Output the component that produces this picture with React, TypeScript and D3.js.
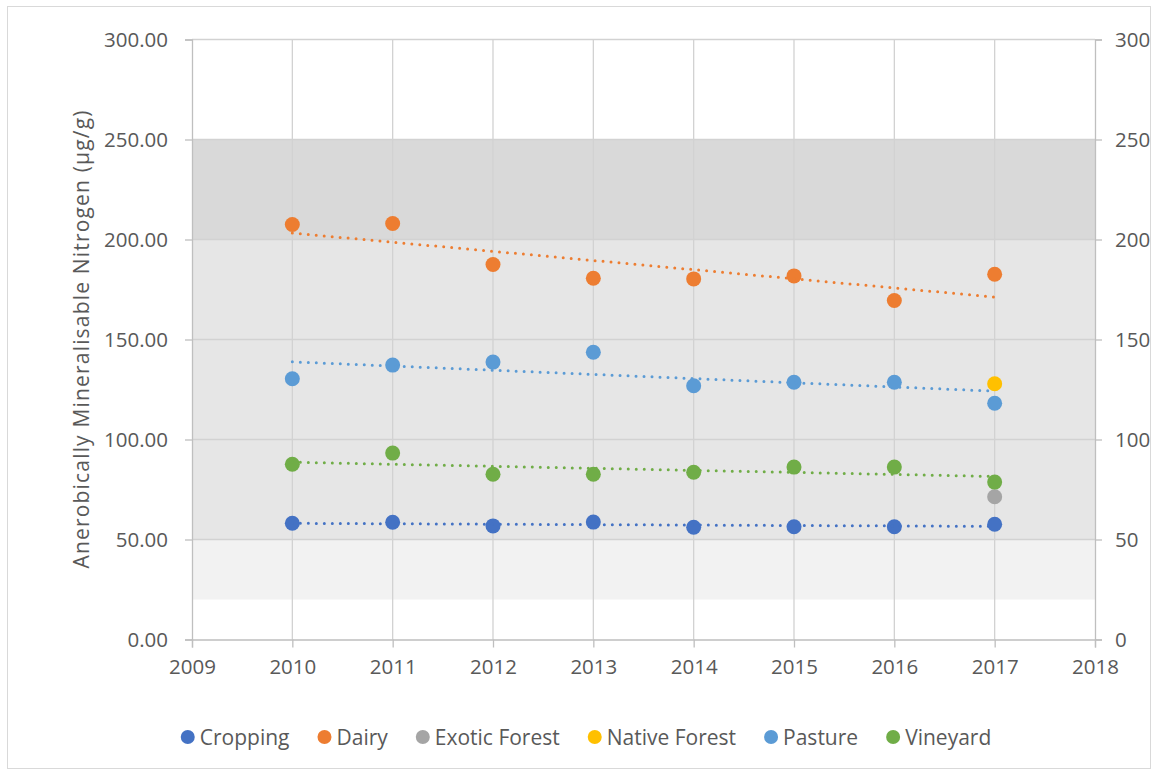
import React, { useEffect, useRef } from 'react';
import * as d3 from 'd3';

const W = 1157, H = 774;
const PLOT = { left: 192, right: 1095, top: 39.5, bottom: 639.5 };
const FONT = '"Open Sans", "DejaVu Sans", sans-serif';
const TEXT = '#595959';

// data
const years = [2010, 2011, 2012, 2013, 2014, 2015, 2016, 2017];
const cropping = [58.1, 58.6, 56.8, 58.7, 56.1, 56.4, 56.4, 57.6];
const dairy = [207.5, 208, 187.5, 180.6, 180.3, 181.8, 169.5, 182.6];
const exoticForest = [null, null, null, null, null, null, null, 71.4];
const nativeForest = [null, null, null, null, null, null, null, 127.9];
const pasture = [130.4, 137.2, 138.7, 143.6, 126.9, 128.6, 128.6, 118.1];
const vineyard = [87.6, 93.2, 82.6, 82.6, 83.6, 86.2, 86.2, 78.7];

const seriesNames = ['Cropping', 'Dairy', 'Exotic Forest', 'Native Forest', 'Pasture', 'Vineyard'];
const seriesValues = [cropping, dairy, exoticForest, nativeForest, pasture, vineyard];
const withTrend = ['Cropping', 'Dairy', 'Pasture', 'Vineyard'];
const colors = ['#4472c4', '#ed7d31', '#a5a5a5', '#ffc000', '#5b9bd5', '#70ad47'];

const yTicks = [0, 50, 100, 150, 200, 250, 300];
const xTicks = [2009, 2010, 2011, 2012, 2013, 2014, 2015, 2016, 2017, 2018];
const bandRanges = [[20, 50], [50, 200], [200, 250]];
const bandFills = ['#f2f2f2', '#e6e6e6', '#d9d9d9'];

function fitLine(xs: number[], ys: number[]) {
  const mx = d3.mean(xs)!, my = d3.mean(ys)!;
  let sxy = 0, sxx = 0;
  xs.forEach((x, i) => { sxy += (x - mx) * (ys[i] - my); sxx += (x - mx) ** 2; });
  const b = sxy / sxx;
  return (x: number) => my + b * (x - mx);
}

export default function App() {
  const ref = useRef<SVGSVGElement>(null);

  useEffect(() => {
    const svg = d3.select(ref.current);
    svg.selectAll('*').remove();

    const x = d3.scaleLinear().domain([2009, 2018]).range([PLOT.left, PLOT.right]);
    const y = d3.scaleLinear().domain([0, 300]).range([PLOT.bottom, PLOT.top]);

    svg.append('rect').attr('width', W).attr('height', H).attr('fill', '#fff');
    svg.append('rect')
      .attr('x', 7.5).attr('y', 6.5).attr('width', 1143).attr('height', 762)
      .attr('fill', 'none').attr('stroke', '#d9d9d9');

    // bands
    svg.append('g').selectAll('rect').data(bandRanges).join('rect')
      .attr('x', PLOT.left).attr('width', PLOT.right - PLOT.left)
      .attr('y', d => y(d[1])).attr('height', d => y(d[0]) - y(d[1]))
      .attr('fill', (_, i) => bandFills[i]);

    // gridlines
    const grid = svg.append('g').attr('stroke', '#d2d2d2').attr('stroke-width', 1.3);
    grid.selectAll('.h').data(yTicks.slice(1)).join('line')
      .attr('x1', PLOT.left).attr('x2', PLOT.right)
      .attr('y1', d => y(d)).attr('y2', d => y(d));
    grid.selectAll('.v').data(xTicks.slice(1, -1)).join('line')
      .attr('y1', PLOT.top).attr('y2', PLOT.bottom)
      .attr('x1', d => x(d)).attr('x2', d => x(d));

    // axes
    const styleAxis = (g: any) => {
      g.select('.domain').attr('stroke', '#bfbfbf').attr('stroke-width', 1.3);
      g.selectAll('.tick line').attr('stroke', '#bfbfbf').attr('stroke-width', 1.3);
      g.selectAll('text').attr('fill', TEXT).attr('font-size', 20.5).attr('font-family', FONT);
    };
    svg.append('g').attr('transform', `translate(${PLOT.left},0)`)
      .call(d3.axisLeft(y).tickValues(yTicks).tickFormat(d3.format('.2f')).tickSizeOuter(0).tickSize(7).tickPadding(17))
      .call(styleAxis);
    svg.append('g').attr('transform', `translate(${PLOT.right},0)`)
      .call(d3.axisRight(y).tickValues(yTicks).tickFormat(d3.format('d')).tickSizeOuter(0).tickSize(7).tickPadding(13))
      .call(styleAxis);
    svg.append('g').attr('transform', `translate(0,${PLOT.bottom})`)
      .call(d3.axisBottom(x).tickValues(xTicks).tickFormat(d3.format('d')).tickSizeOuter(0).tickSize(8).tickPadding(12))
      .call(styleAxis);

    svg.append('text')
      .attr('transform', `translate(81,${(PLOT.top + PLOT.bottom) / 2}) rotate(-90)`)
      .attr('text-anchor', 'middle').attr('dominant-baseline', 'central')
      .attr('fill', TEXT).attr('font-size', 21).attr('font-family', FONT)
      .attr('textLength', 458).attr('lengthAdjust', 'spacing')
      .text('Anerobically Mineralisable Nitrogen (µg/g)');

    // points
    seriesNames.forEach((name, si) => {
      const pts = years.map((yr, i) => ({ yr, v: seriesValues[si][i] })).filter(d => d.v != null) as { yr: number, v: number }[];
      svg.append('g').selectAll('circle').data(pts).join('circle')
        .attr('cx', d => x(d.yr)).attr('cy', d => y(d.v)).attr('r', 7.5)
        .attr('fill', colors[si]);
    });

    // trendlines
    const line = d3.line<number[]>().x(d => x(d[0])).y(d => y(d[1]));
    seriesNames.forEach((name, si) => {
      if (!withTrend.includes(name)) return;
      const vals = seriesValues[si] as number[];
      const f = fitLine(years, vals);
      const ends = [years[0], years[years.length - 1]].map(yr => [yr, f(yr)]);
      svg.append('path').attr('d', line(ends))
        .attr('fill', 'none').attr('stroke', colors[si]).attr('stroke-width', 3)
        .attr('stroke-linecap', 'round').attr('stroke-dasharray', '0 8');
    });

    // legend
    const leg = svg.append('g');
    const items = seriesNames.map((name, i) => {
      const g = leg.append('g');
      g.append('circle').attr('cx', 0).attr('cy', 737).attr('r', 7).attr('fill', colors[i]);
      const t = g.append('text').attr('x', 12).attr('y', 737).attr('dominant-baseline', 'central')
        .attr('fill', TEXT).attr('font-size', 21).attr('font-family', FONT).text(name);
      const w = (t.node() as SVGTextElement).getComputedTextLength();
      return { g, w: 12 + w };
    });
    const gap = 35;
    const total = d3.sum(items, d => d.w) + gap * (items.length - 1) + 7;
    let cx = 586 - total / 2 + 7;
    items.forEach(it => {
      it.g.attr('transform', `translate(${cx},0)`);
      cx += it.w + gap;
    });
  }, []);

  return (
    <svg ref={ref} width={W} height={H}
      style={{ position: 'absolute', left: 0, top: 0, display: 'block' }} />
  );
}
